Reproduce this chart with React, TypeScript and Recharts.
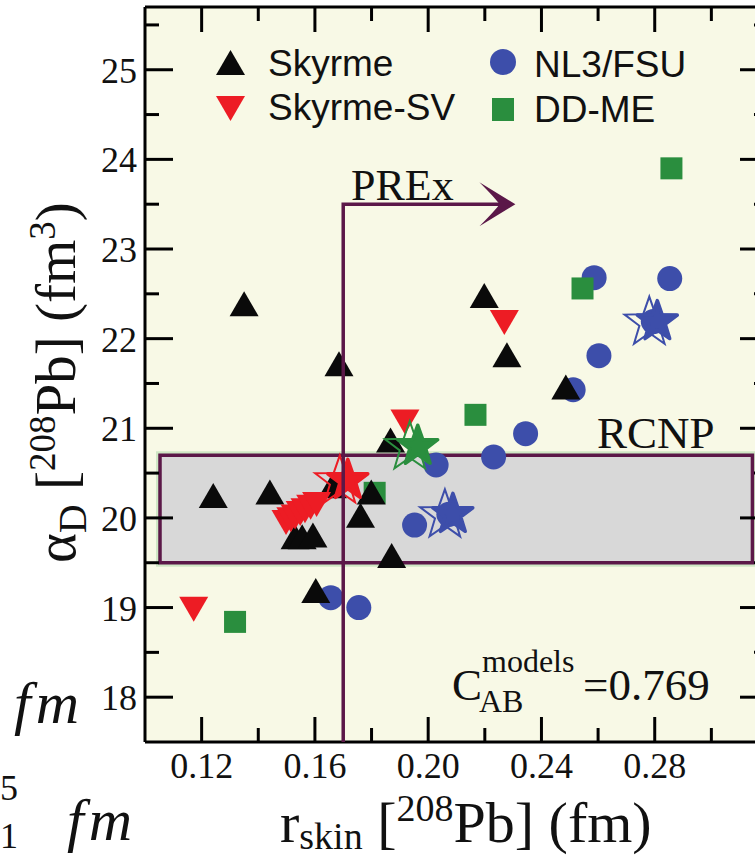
import { ReferenceArea, Scatter, ScatterChart, XAxis, YAxis } from "recharts";

// r_skin (fm) / alpha_D (fm^3), one pair of arrays per model family
const SKYRME_R = [0.135, 0.1685, 0.1241, 0.1441, 0.153, 0.1555, 0.1593, 0.1662, 0.1799, 0.1761, 0.1871, 0.1867, 0.1603, 0.2198, 0.2278, 0.2486];
const SKYRME_A = [22.39, 21.72, 20.25, 20.29, 19.79, 19.79, 19.81, 20.36, 20.29, 20.03, 19.58, 20.87, 19.19, 22.48, 21.82, 21.46];

const SV_R = [0.1172, 0.2269, 0.1918, 0.1498, 0.1515, 0.153, 0.1548, 0.1565, 0.1585, 0.1606];
const SV_A = [18.98, 22.18, 21.07, 19.95, 19.98, 20.01, 20.05, 20.08, 20.12, 20.15];

const NL3_R = [0.1656, 0.1755, 0.1952, 0.2028, 0.2231, 0.2344, 0.2512, 0.2603, 0.2586, 0.2853, 0.2795, 0.2073];
const NL3_A = [19.11, 19.0, 19.92, 20.59, 20.68, 20.94, 21.43, 21.81, 22.68, 22.67, 22.19, 20.04];

const DDME_R = [0.2859, 0.2545, 0.2167, 0.1811, 0.1318];
const DDME_A = [23.9, 22.56, 21.15, 20.28, 18.84];

// star symbols (reference parametrisations)
const SV_STAR_R = [0.1702];
const SV_STAR_A = [20.42];
const DDME_STAR_R = [0.1949];
const DDME_STAR_A = [20.8];
const NL3_STAR_R = [0.2073, 0.2795];
const NL3_STAR_A = [20.04, 22.19];

// experimental constraints
const PREX_SKIN = 0.17;
const PREX_TOP = 23.5;
const PREX_ARROW_END = 0.2308;
const RCNP_LOW = 19.5;
const RCNP_HIGH = 20.7;
const RCNP_X = [0.1053, 0.3145];

const X_DOMAIN = [0.1, 0.32];
const Y_DOMAIN = [17.5, 25.7];
const X_TICKS = [0.12, 0.14, 0.16, 0.18, 0.2, 0.22, 0.24, 0.26, 0.28, 0.3];
const Y_TICKS = [18, 18.5, 19, 19.5, 20, 20.5, 21, 21.5, 22, 22.5, 23, 23.5, 24, 24.5, 25, 25.5];

const BG = "#F8F9E6";
const PURPLE = "#5B1848";
const BLACK = "#0A0A0A";
const RED = "#ED1C24";
const BLUE = "#3D4EAA";
const GREEN = "#2A8E3E";
const SERIF = "'Liberation Serif', 'Times New Roman', serif";
const SANS = "'Liberation Sans', Arial, sans-serif";

const pts = (xs: number[], ys: number[]) => xs.map((x, i) => ({ x, y: ys[i] }));

const upTri = (color: string) => (p: any) => (
  <path d={`M${p.cx},${p.cy - 12.5} L${p.cx + 14.5},${p.cy + 12.5} L${p.cx - 14.5},${p.cy + 12.5} Z`} fill={color} />
);
const downTri = (color: string) => (p: any) => (
  <path d={`M${p.cx - 14.5},${p.cy - 12.5} L${p.cx + 14.5},${p.cy - 12.5} L${p.cx},${p.cy + 12.5} Z`} fill={color} />
);
const circle = (color: string) => (p: any) => <circle cx={p.cx} cy={p.cy} r={12.5} fill={color} />;
const square = (color: string) => (p: any) => <rect x={p.cx - 11} y={p.cy - 11} width={22} height={22} fill={color} />;

function starPath(cx: number, cy: number, R: number) {
  const r = R * 0.4;
  let d = "";
  for (let i = 0; i < 10; i++) {
    const rad = i % 2 === 0 ? R : r;
    const a = -Math.PI / 2 + (i * Math.PI) / 5;
    d += `${i === 0 ? "M" : "L"}${(cx + rad * Math.cos(a)).toFixed(1)},${(cy + rad * Math.sin(a)).toFixed(1)} `;
  }
  return d + "Z";
}

const star = (color: string) => (p: any) => (
  <g>
    <path d={starPath(p.cx - 4, p.cy + 1, 26)} fill="none" stroke={color} strokeWidth={2} strokeLinejoin="miter" />
    <path d={starPath(p.cx + 4, p.cy, 21)} fill={color} stroke={color} strokeWidth={3.5} strokeLinejoin="round" />
  </g>
);

const arrowHead = (p: any) => {
  const x = p.cx;
  const y = p.cy;
  return (
    <path
      d={`M${x},${y} L${x - 36},${y - 22} Q${x - 20},${y - 6} ${x - 16},${y} Q${x - 20},${y + 6} ${x - 36},${y + 22} Z`}
      fill={PURPLE}
    />
  );
};

const noDot = () => <g />;

const majorX = (v: number) => Math.round(v * 100) % 4 === 0;
const majorY = (v: number) => Math.abs(v - Math.round(v)) < 1e-6;

const BottomTick = (p: any) => {
  const v = p.payload.value;
  const big = majorX(v);
  return (
    <g>
      <line x1={p.x} x2={p.x} y1={p.y} y2={p.y - (big ? 25 : 14)} stroke="#000" strokeWidth={3} />
      {big && (
        <text x={p.x} y={p.y + 36} textAnchor="middle" fontFamily={SERIF} fontSize={36} fill="#111">
          {v.toFixed(2)}
        </text>
      )}
    </g>
  );
};

const TopTick = (p: any) => {
  const big = majorX(p.payload.value);
  return <line x1={p.x} x2={p.x} y1={p.y} y2={p.y + (big ? 25 : 14)} stroke="#000" strokeWidth={3} />;
};

const LeftTick = (p: any) => {
  const v = p.payload.value;
  const big = majorY(v);
  return (
    <g>
      <line x1={p.x} x2={p.x + (big ? 28 : 14)} y1={p.y} y2={p.y} stroke="#000" strokeWidth={3} />
      {big && (
        <text x={p.x - 8} y={p.y + 13} textAnchor="end" fontFamily={SERIF} fontSize={36} fill="#111">
          {v}
        </text>
      )}
    </g>
  );
};

const RightTick = (p: any) => {
  const big = majorY(p.payload.value);
  return <line x1={p.x} x2={p.x - (big ? 28 : 14)} y1={p.y} y2={p.y} stroke="#000" strokeWidth={3} />;
};

const axisLine = { stroke: "#000", strokeWidth: 3 };

export default function App() {
  return (
    <div style={{ position: "absolute", left: 0, top: 0, width: 755, height: 861, overflow: "hidden", background: "#fff" }}>
      <ScatterChart width={800} height={861} margin={{ top: 6, right: 31, bottom: 89, left: 85 }}>
        <XAxis
          type="number"
          dataKey="x"
          domain={X_DOMAIN}
          ticks={X_TICKS}
          interval={0}
          allowDataOverflow
          height={30}
          tickSize={0}
          tickMargin={0}
          axisLine={axisLine}
          tickLine={false}
          tick={(p: any) => <BottomTick {...p} />}
        />
        <XAxis
          xAxisId="top"
          orientation="top"
          type="number"
          dataKey="x"
          domain={X_DOMAIN}
          ticks={X_TICKS}
          interval={0}
          allowDataOverflow
          height={1}
          tickSize={0}
          tickMargin={0}
          axisLine={axisLine}
          tickLine={false}
          tick={(p: any) => <TopTick {...p} />}
        />
        <YAxis
          type="number"
          dataKey="y"
          domain={Y_DOMAIN}
          ticks={Y_TICKS}
          interval={0}
          allowDataOverflow
          width={60}
          tickSize={0}
          tickMargin={0}
          axisLine={axisLine}
          tickLine={false}
          tick={(p: any) => <LeftTick {...p} />}
        />
        <YAxis
          yAxisId="right"
          orientation="right"
          type="number"
          dataKey="y"
          domain={Y_DOMAIN}
          ticks={Y_TICKS}
          interval={0}
          allowDataOverflow
          width={1}
          tickSize={0}
          tickMargin={0}
          axisLine={axisLine}
          tickLine={false}
          tick={(p: any) => <RightTick {...p} />}
        />
        <ReferenceArea x1={X_DOMAIN[0]} x2={X_DOMAIN[1]} y1={Y_DOMAIN[0]} y2={Y_DOMAIN[1]} fill={BG} fillOpacity={1} stroke="none" />
        <ReferenceArea x1={RCNP_X[0]} x2={RCNP_X[1]} y1={RCNP_LOW} y2={RCNP_HIGH} fill="none" stroke="#CFE7C5" strokeWidth={8} />
        <ReferenceArea x1={RCNP_X[0]} x2={RCNP_X[1]} y1={RCNP_LOW} y2={RCNP_HIGH} fill="#D8D8D8" fillOpacity={1} stroke={PURPLE} strokeWidth={3.5} />

        <Scatter data={pts(NL3_R, NL3_A)} shape={circle(BLUE)} isAnimationActive={false} />
        <Scatter data={pts(DDME_R, DDME_A)} shape={square(GREEN)} isAnimationActive={false} />
        <Scatter data={pts(SKYRME_R, SKYRME_A)} shape={upTri(BLACK)} isAnimationActive={false} />
        <Scatter data={pts(SV_R, SV_A)} shape={downTri(RED)} isAnimationActive={false} />
        <Scatter data={pts(NL3_STAR_R, NL3_STAR_A)} shape={star(BLUE)} isAnimationActive={false} />
        <Scatter data={pts(DDME_STAR_R, DDME_STAR_A)} shape={star(GREEN)} isAnimationActive={false} />
        <Scatter data={pts(SV_STAR_R, SV_STAR_A)} shape={star(RED)} isAnimationActive={false} />

        <Scatter
          data={[
            { x: PREX_SKIN, y: Y_DOMAIN[0] },
            { x: PREX_SKIN, y: PREX_TOP },
            { x: PREX_ARROW_END - 0.002, y: PREX_TOP },
          ]}
          line={{ stroke: PURPLE, strokeWidth: 3.5 }}
          shape={noDot}
          isAnimationActive={false}
        />
        <Scatter data={[{ x: PREX_ARROW_END, y: PREX_TOP }]} shape={arrowHead} isAnimationActive={false} />
      </ScatterChart>

      <svg width={755} height={861} style={{ position: "absolute", left: 0, top: 0, pointerEvents: "none" }}>
        {/* legend */}
        <path d="M230.5,50 L245,75 L216,75 Z" fill={BLACK} />
        <text x={268} y={76} fontFamily={SANS} fontSize={37} fill="#111">Skyrme</text>
        <path d="M216,96 L245,96 L230.5,121 Z" fill={RED} />
        <text x={268} y={120} fontFamily={SANS} fontSize={37} fill="#111">Skyrme-SV</text>
        <circle cx={503} cy={62} r={13} fill={BLUE} />
        <text x={534} y={77} fontFamily={SANS} fontSize={37} fill="#111">NL3/FSU</text>
        <rect x={492} y={98} width={22} height={23} fill={GREEN} />
        <text x={534} y={122} fontFamily={SANS} fontSize={37} fill="#111">DD-ME</text>

        {/* annotations */}
        <text x={351} y={200} fontFamily={SERIF} fontSize={44} fill="#111">PREx</text>
        <text x={597} y={448} fontFamily={SERIF} fontSize={45} fill="#111">RCNP</text>
        <text x={452} y={700} fontFamily={SERIF} fontSize={45} fill="#111">C</text>
        <text x={482} y={672} fontFamily={SERIF} fontSize={32} fill="#111">models</text>
        <text x={479} y={712} fontFamily={SERIF} fontSize={32} fill="#111">AB</text>
        <text x={583} y={700} fontFamily={SERIF} fontSize={45} fill="#111">=0.769</text>

        {/* axis titles */}
        <text transform="translate(75,563) rotate(-90)" fontFamily={SERIF} fontSize={57} fill="#111">
          α<tspan fontSize={40} dy={11}>D</tspan>
          <tspan dy={-11}> [</tspan>
          <tspan fontSize={37} dy={-20}>208</tspan>
          <tspan dy={20}>Pb] (fm</tspan>
          <tspan fontSize={37} dy={-20}>3</tspan>
          <tspan dy={20}>)</tspan>
        </text>
        <text x={280} y={842} fontFamily={SERIF} fontSize={58} fill="#111">
          r<tspan fontSize={38} dy={7}>skin</tspan>
          <tspan dy={-7}> [</tspan>
          <tspan fontSize={38} dy={-21}>208</tspan>
          <tspan dy={21}>Pb] (fm)</tspan>
        </text>

        {/* fragments of a neighbouring panel at the left edge */}
        <text x={84} y={723} textAnchor="end" fontFamily={SERIF} fontStyle="italic" fontSize={60} letterSpacing={5} fill="#111">fm</text>
        <text x={0} y={800} fontFamily={SERIF} fontSize={36} fill="#111">5</text>
        <text x={0} y={848} fontFamily={SERIF} fontSize={36} fill="#111">1</text>
        <text x={137} y={840} textAnchor="end" fontFamily={SERIF} fontStyle="italic" fontSize={60} letterSpacing={5} fill="#111">fm</text>
      </svg>
    </div>
  );
}
